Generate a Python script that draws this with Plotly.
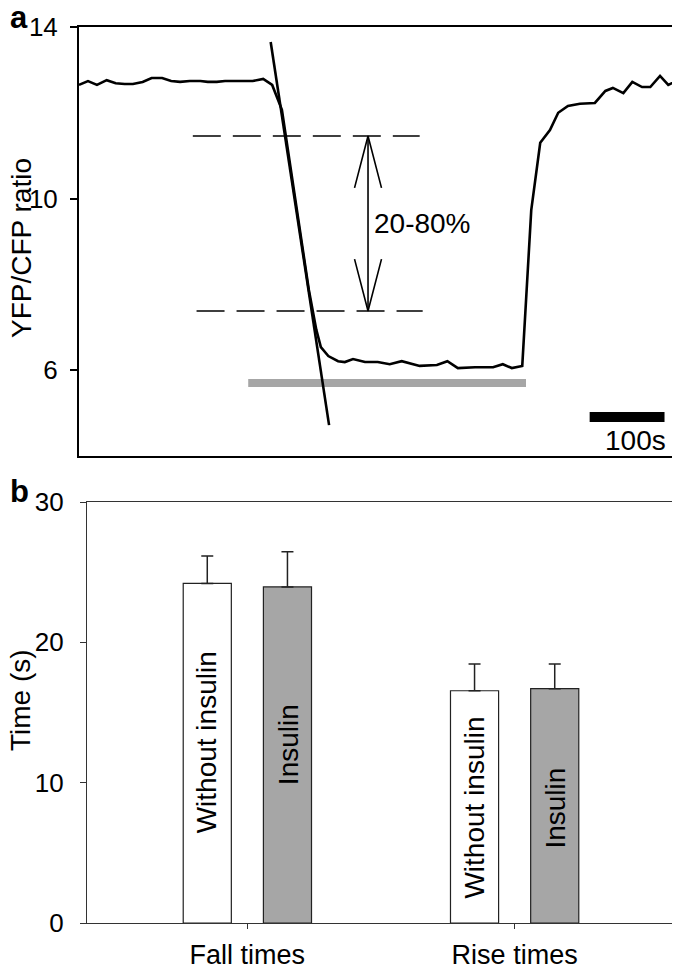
import plotly.graph_objects as go

# ---------------- Panel a data ----------------
time_s = [0, 12, 24, 37, 49, 61, 72, 85, 97, 111, 123, 135, 148, 162, 172, 184, 195, 206, 219, 232,
          246, 258, 271, 284, 297, 307, 317, 323, 333, 346, 355, 366, 382, 399, 415, 431, 455, 478,
          492, 506, 529, 553, 566, 578, 592, 601, 604, 616, 629, 640, 653, 669, 689, 703, 713, 727,
          739, 752, 763, 776, 787, 800]
ratio = [12.65, 12.74, 12.65, 12.76, 12.69, 12.67, 12.67, 12.72, 12.81, 12.81, 12.74, 12.72, 12.74,
         12.74, 12.72, 12.72, 12.74, 12.74, 12.74, 12.74, 12.79, 12.65, 12.07, 10.55, 9.03, 7.87,
         6.94, 6.54, 6.33, 6.21, 6.19, 6.26, 6.19, 6.19, 6.14, 6.21, 6.10, 6.12, 6.21, 6.05, 6.07,
         6.07, 6.14, 6.05, 6.10, 9.03, 9.73, 11.30, 11.60, 12.00, 12.16, 12.21, 12.23, 12.51, 12.58,
         12.46, 12.72, 12.60, 12.60, 12.86, 12.65, 12.76]

fit_t = [256, 334]
fit_v = [13.65, 4.72]

level80 = 11.46
level20 = 7.38
dash80_t = [152, 455]
dash20_t = [157, 459]

arrow_t = 386
head_dt = 18
head_dv = 1.21

stim_t = [226, 597]
stim_v = 5.70

scale_t = [682, 782]
scale_v = 4.91

y_ticks_a = [6, 10, 14]

# ---------------- Panel b data ----------------
categories = ["Fall times", "Rise times"]
without_insulin = [24.2, 16.55]
with_insulin = [23.95, 16.7]
err_without = [1.95, 1.9]
err_insulin = [2.5, 1.75]
y_ticks_b = [0, 10, 20, 30]

FONT = "Liberation Sans, Arial, Helvetica, sans-serif"
# page is offset by the default 8px body margin; figure is sized to fit
OFF = 8
W, H = 672, 958


def px(xp):
    return (xp - OFF) / W


def py(yp):
    return 1 - (yp - OFF) / H


fig = go.Figure()

# stimulus bar (gray)
fig.add_trace(go.Scatter(x=stim_t, y=[stim_v, stim_v], mode="lines",
                         line=dict(color="#a6a6a6", width=8), xaxis="x", yaxis="y",
                         showlegend=False, hoverinfo="skip"))
# dashed levels
fig.add_trace(go.Scatter(x=dash80_t, y=[level80, level80], mode="lines",
                         line=dict(color="black", width=1.6, dash="28px,12px"),
                         xaxis="x", yaxis="y", showlegend=False))
fig.add_trace(go.Scatter(x=dash20_t, y=[level20, level20], mode="lines",
                         line=dict(color="black", width=1.6, dash="28px,12px"),
                         xaxis="x", yaxis="y", showlegend=False))
# double arrow
fig.add_trace(go.Scatter(
    x=[arrow_t, arrow_t, None,
       arrow_t - head_dt, arrow_t, arrow_t + head_dt, None,
       arrow_t - head_dt, arrow_t, arrow_t + head_dt],
    y=[level80, level20, None,
       level80 - head_dv, level80, level80 - head_dv, None,
       level20 + head_dv, level20, level20 + head_dv],
    mode="lines", line=dict(color="black", width=1.6),
    xaxis="x", yaxis="y", showlegend=False))
# trace
fig.add_trace(go.Scatter(x=time_s, y=ratio, mode="lines",
                         line=dict(color="black", width=2.6),
                         xaxis="x", yaxis="y", showlegend=False))
# fitted line
fig.add_trace(go.Scatter(x=fit_t, y=fit_v, mode="lines",
                         line=dict(color="black", width=2.6),
                         xaxis="x", yaxis="y", showlegend=False))
# scale bar
fig.add_trace(go.Scatter(x=scale_t, y=[scale_v, scale_v], mode="lines",
                         line=dict(color="black", width=10),
                         xaxis="x", yaxis="y", showlegend=False))

# bars
fig.add_trace(go.Bar(x=categories, y=without_insulin, name="Without insulin",
                     marker=dict(color="white", line=dict(color="#222", width=1.2)),
                     error_y=dict(type="data", array=err_without, arrayminus=[0, 0],
                                  symmetric=False, color="#222", thickness=1.5, width=6),
                     xaxis="x2", yaxis="y2", showlegend=False))
fig.add_trace(go.Bar(x=categories, y=with_insulin, name="Insulin",
                     marker=dict(color="#a6a6a6", line=dict(color="#222", width=1.2)),
                     error_y=dict(type="data", array=err_insulin, arrayminus=[0, 0],
                                  symmetric=False, color="#222", thickness=1.5, width=6),
                     xaxis="x2", yaxis="y2", showlegend=False))

ax_common = dict(showgrid=False, zeroline=False, showline=True, mirror=True, automargin=False)
TXT = 28

annotations = [
    dict(text="20-80%", x=391, y=9.41, xref="x", yref="y", xanchor="left", yanchor="middle",
         showarrow=False, font=dict(size=TXT, color="black", family=FONT)),
    dict(text="100s", x=787, y=4.35, xref="x", yref="y", xanchor="right", yanchor="middle",
         showarrow=False, font=dict(size=TXT, color="black", family=FONT)),
    dict(text="YFP/CFP ratio", x=px(21), y=py(248), xref="paper", yref="paper",
         textangle=-90, xanchor="center", yanchor="middle", showarrow=False,
         font=dict(size=TXT, color="black", family=FONT)),
    dict(text="Time (s)", x=px(20), y=py(700), xref="paper", yref="paper",
         textangle=-90, xanchor="center", yanchor="middle", showarrow=False,
         font=dict(size=TXT, color="black", family=FONT)),
    dict(text="<b>a</b>", x=0, y=py(17), xref="paper", yref="paper",
         xanchor="left", yanchor="middle", showarrow=False,
         font=dict(size=31, color="black", family=FONT)),
    dict(text="<b>b</b>", x=0, y=py(492), xref="paper", yref="paper",
         xanchor="left", yanchor="middle", showarrow=False,
         font=dict(size=31, color="black", family=FONT)),
]
bar_label_y_without = [12.9, 8.2]
bar_label_y_insulin = [12.7, 8.2]
for i, c in enumerate(categories):
    annotations.append(dict(text="Without insulin", x=c, y=bar_label_y_without[i], xref="x2", yref="y2",
                            xshift=-40, textangle=-90, showarrow=False,
                            font=dict(size=TXT, color="black", family=FONT)))
    annotations.append(dict(text="Insulin", x=c, y=bar_label_y_insulin[i], xref="x2", yref="y2",
                            xshift=41, textangle=-90, showarrow=False,
                            font=dict(size=TXT, color="black", family=FONT)))

fig.update_layout(
    width=W, height=H,
    margin=dict(l=0, r=0, t=0, b=0, autoexpand=False),
    paper_bgcolor="white", plot_bgcolor="white",
    font=dict(family=FONT, color="black", size=25),
    barmode="group", bargap=0.4, bargroupgap=0.4,
    xaxis=dict(domain=[px(79), px(678)], range=[0, 800], anchor="y",
               showticklabels=False, ticks="", linecolor="black", linewidth=2, **ax_common),
    yaxis=dict(domain=[py(456), py(27)], range=[4, 14], anchor="x",
               tickvals=y_ticks_a, ticks="outside", ticklen=7, tickwidth=1.5, tickcolor="black",
               ticklabelstandoff=7,
               tickfont=dict(size=26), linecolor="black", linewidth=2, **ax_common),
    xaxis2=dict(domain=[px(87), px(675)], range=[-0.6, 1.6], anchor="y2", type="category",
                ticks="outside", ticklen=5, tickwidth=1.2, tickcolor="#333",
                ticklabelstandoff=2,
                tickfont=dict(size=27), linecolor="#333", linewidth=1.3, **ax_common),
    yaxis2=dict(domain=[py(923), py(502)], range=[0, 30], anchor="x2",
                tickvals=y_ticks_b, ticks="outside", ticklen=6, tickwidth=1.2, tickcolor="#333",
                ticklabelstandoff=11,
                tickfont=dict(size=26), linecolor="#333", linewidth=1.3, **ax_common),
    annotations=annotations,
)

fig.write_html("out.html")
